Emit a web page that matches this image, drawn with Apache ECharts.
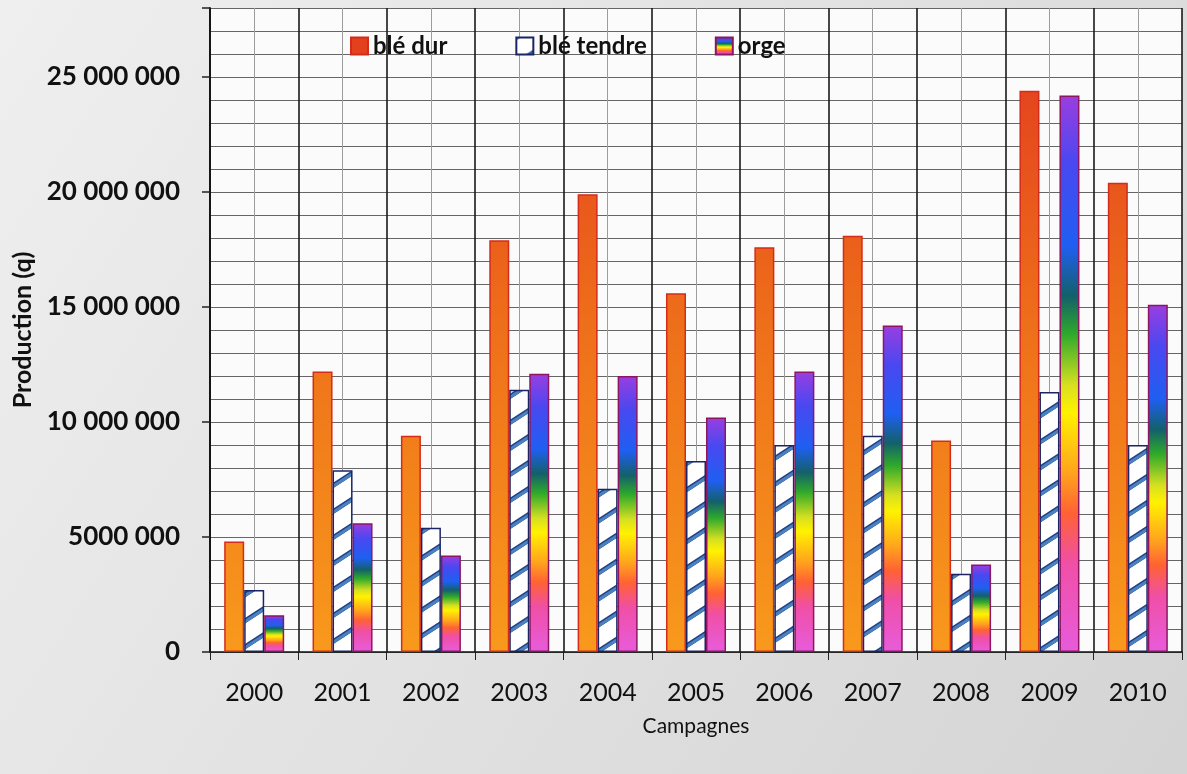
<!DOCTYPE html>
<html><head><meta charset="utf-8">
<script src="https://cdn.jsdelivr.net/npm/echarts@6/dist/echarts.min.js"></script>
<style>html,body{margin:0;padding:0;background:#e4e4e4}#c{width:1187px;height:774px}</style>
</head><body><div id="c"></div>
<script>
const categories = ['2000','2001','2002','2003','2004','2005','2006','2007','2008','2009','2010'];
const bleDur    = [4.8e6, 12.2e6, 9.4e6, 17.9e6, 19.9e6, 15.6e6, 17.6e6, 18.1e6, 9.2e6, 24.4e6, 20.4e6];
const bleTendre = [2.7e6, 7.9e6, 5.4e6, 11.4e6, 7.1e6, 8.3e6, 9.0e6, 9.4e6, 3.4e6, 11.3e6, 9.0e6];
const orge      = [1.6e6, 5.6e6, 4.2e6, 12.1e6, 12.0e6, 10.2e6, 12.2e6, 14.2e6, 3.8e6, 24.2e6, 15.1e6];
const yTickLabels = ['0','5000 000','10 000 000','15 000 000','20 000 000','25 000 000'];
const seriesNames = ['blé dur','blé tendre','orge'];

function hatch(){
  const c=document.createElement('canvas'); c.width=40; c.height=26;
  const g=c.getContext('2d');
  g.fillStyle='#ffffff'; g.fillRect(0,0,40,26);
  g.lineCap='butt';
  for(let k=-1;k<=1;k++){
    g.strokeStyle='#1f3f86'; g.lineWidth=4.6;
    g.beginPath(); g.moveTo(-10,26+6.5+k*26); g.lineTo(50,26-32.5+k*26); g.stroke();
    g.strokeStyle='#4a82c0'; g.lineWidth=3;
    g.beginPath(); g.moveTo(-10,26+6.5+k*26+0.8); g.lineTo(50,26-32.5+k*26+0.8); g.stroke();
  }
  return c;
}
const durColor = {type:'linear', global:true, x:0, y:60, x2:0, y2:650, colorStops:[
  {offset:0,color:'#e3401e'},{offset:0.45,color:'#ee6f1a'},{offset:1,color:'#f8991c'}]};
const orgeColor = {type:'linear', x:0, y:0, x2:0, y2:1, colorStops:[
  {offset:0,color:'#9a3ee0'},{offset:0.12,color:'#4a48f0'},{offset:0.27,color:'#1f5ff2'},
  {offset:0.36,color:'#13606a'},{offset:0.43,color:'#2faa2a'},{offset:0.52,color:'#d6e020'},
  {offset:0.57,color:'#fff200'},{offset:0.68,color:'#ffa21e'},{offset:0.75,color:'#ff6233'},
  {offset:0.84,color:'#f04fa6'},{offset:1,color:'#e75cdc'}]};

const chart = echarts.init(document.getElementById('c'), null, {renderer:'canvas'});
const font = 'Lato, "Open Sans", sans-serif';
chart.setOption({
  backgroundColor:{type:'linear',x:0,y:0,x2:1,y2:1,colorStops:[{offset:0,color:'#efefef'},{offset:1,color:'#d4d4d4'}]},
  animation:false,
  textStyle:{fontFamily:font},
  legend:{data:seriesNames, icon:'rect', left:345, top:29, itemWidth:17, itemHeight:17, itemGap:68,
    textStyle:{fontFamily:font, fontWeight:'bold', fontSize:24, color:'#111'}},
  grid:{left:210, right:5, top:8, bottom:122, show:true, backgroundColor:'#fbfbfb', borderWidth:0},
  xAxis:[{type:'category', data:categories,
      axisLine:{lineStyle:{color:'#111', width:1.5}},
      axisTick:{show:true, length:8, lineStyle:{color:'#222'}},
      axisLabel:{fontFamily:font, fontSize:25, color:'#111', margin:28},
      splitLine:{show:true, lineStyle:{color:'#1a1a1a', width:1.6}},
      name:'Campagnes', nameLocation:'middle', nameGap:64,
      nameTextStyle:{fontFamily:font, fontSize:21, color:'#111'}},
    {type:'value', min:0, max:22, interval:1, position:'top',
      axisLine:{show:false}, axisTick:{show:false}, axisLabel:{show:false},
      splitLine:{show:true, lineStyle:{color:['rgba(0,0,0,0)','#9c9c9c'], width:1}}}],
  yAxis:[{type:'value', min:0, max:28e6, interval:1e6,
      axisLine:{show:true, lineStyle:{color:'#111', width:1.8}},
      axisTick:{show:false},
      axisLabel:{fontFamily:font, fontWeight:'bold', fontSize:26, color:'#111', margin:30,
        formatter:v=> (v % 5e6 === 0 && v/5e6 < yTickLabels.length) ? yTickLabels[v/5e6] : ''},
      splitLine:{show:true, lineStyle:{color:'#666', width:1.2}},
      name:'Production (q)', nameLocation:'middle', nameGap:164, nameRotate:90,
      nameTextStyle:{fontFamily:font, fontWeight:'bold', fontSize:25, color:'#111'}},
    {type:'value', min:0, max:28e6, interval:5e6, position:'left',
      axisLine:{show:false}, axisTick:{show:true, length:8, lineStyle:{color:'#222', width:1.5}},
      axisLabel:{show:false}, splitLine:{show:false}}],
  series:[
    {name:seriesNames[0], type:'bar', data:bleDur, barWidth:20, barGap:'0%',
      itemStyle:{color:durColor, borderColor:'#d52b1a', borderWidth:1.5}},
    {name:seriesNames[1], type:'bar', data:bleTendre, barWidth:20, barGap:'0%',
      itemStyle:{color:{image:hatch(), repeat:'repeat'}, borderColor:'#1b2566', borderWidth:1.5}},
    {name:seriesNames[2], type:'bar', data:orge, barWidth:20, barGap:'0%',
      itemStyle:{color:orgeColor, borderColor:'#8e1660', borderWidth:1.5}}
  ]
});
</script></body></html>
